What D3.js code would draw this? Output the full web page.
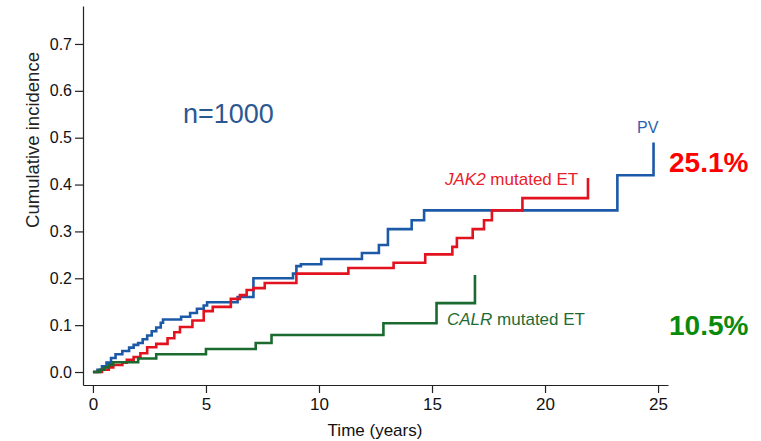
<!DOCTYPE html>
<html>
<head>
<meta charset="utf-8">
<script src="https://cdn.jsdelivr.net/npm/d3@7"></script>
<style>
  body { margin: 0; background: #fff; }
  text { font-family: "Liberation Sans", Arial, sans-serif; }
</style>
</head>
<body>
<script>
// step times (years) and cumulative incidence after each step
var pvTime = [0, 0.2, 0.4, 0.6, 0.8, 1.0, 1.3, 1.6, 1.8, 2.0, 2.2, 2.4, 2.6, 2.8, 3.0, 3.1, 3.9, 4.3, 4.6, 4.9, 5.05, 6.4, 7.1, 8.85, 9.0, 9.2, 10.1, 11.9, 12.65, 13.05, 14.1, 14.65, 23.2, 24.8, 24.8];
var pvValue = [0, 0.005, 0.012, 0.02, 0.03, 0.038, 0.045, 0.052, 0.058, 0.062, 0.07, 0.078, 0.087, 0.095, 0.105, 0.112, 0.118, 0.126, 0.135, 0.142, 0.149, 0.16, 0.2, 0.21, 0.226, 0.23, 0.241, 0.254, 0.271, 0.305, 0.324, 0.345, 0.42, 0.49, 0.49];

var jakTime = [0, 0.4, 0.7, 0.9, 1.3, 1.5, 1.8, 2.1, 2.4, 2.8, 3.3, 3.6, 3.85, 4.4, 4.9, 5.3, 6.1, 6.5, 6.8, 7.1, 7.6, 9.0, 11.3, 13.3, 14.7, 15.9, 16.1, 16.8, 17.3, 17.65, 19.0, 21.9, 21.9];
var jakValue = [0, 0.005, 0.01, 0.015, 0.02, 0.026, 0.032, 0.04, 0.053, 0.06, 0.072, 0.085, 0.096, 0.11, 0.13, 0.139, 0.156, 0.164, 0.175, 0.179, 0.19, 0.21, 0.222, 0.233, 0.251, 0.267, 0.286, 0.305, 0.324, 0.345, 0.371, 0.414, 0.414];

var calrTime = [0, 0.3, 0.5, 0.7, 0.9, 2.0, 2.8, 5.0, 7.2, 7.9, 12.85, 15.2, 16.9, 16.9];
var calrValue = [0, 0.005, 0.01, 0.015, 0.021, 0.029, 0.038, 0.049, 0.062, 0.079, 0.104, 0.147, 0.207, 0.207];

var xTicks = [0, 5, 10, 15, 20, 25];
var yTicks = [0, 0.1, 0.2, 0.3, 0.4, 0.5, 0.6, 0.7];

var series = [
  {name: "PV", time: pvTime, value: pvValue, color: "#1c5aa8"},
  {name: "JAK2", time: jakTime, value: jakValue, color: "#e3121f"},
  {name: "CALR", time: calrTime, value: calrValue, color: "#1b6a30"}
];

var width = 761, height = 441;

var svg = d3.select("body").append("svg")
    .attr("width", width)
    .attr("height", height);

var x = d3.scaleLinear().domain([-0.44, 25.44]).range([83, 668]);
var y = d3.scaleLinear().domain([-0.0277, 0.781]).range([385, 6]);

var xAxis = svg.append("g")
    .attr("transform", "translate(0,385)")
    .call(d3.axisBottom(x).tickValues(xTicks).tickSizeOuter(0).tickSizeInner(8).tickPadding(5)
      .tickFormat(d3.format("d")));
xAxis.selectAll("text").attr("font-size", 17).attr("fill", "#111")
    .style("font-family", "'Liberation Sans', Arial, sans-serif");

var yAxis = svg.append("g")
    .attr("transform", "translate(83,0)")
    .call(d3.axisLeft(y).tickValues(yTicks).tickSizeOuter(0).tickSizeInner(8).tickPadding(3)
      .tickFormat(d3.format(".1f")));
yAxis.selectAll("text").attr("font-size", 16).attr("fill", "#111")
    .style("font-family", "'Liberation Sans', Arial, sans-serif");

svg.selectAll(".domain, .tick line").attr("stroke", "#222").attr("stroke-width", 1.2);

svg.append("text")
    .attr("x", 375).attr("y", 436)
    .attr("text-anchor", "middle")
    .attr("font-size", 17).attr("fill", "#111")
    .text("Time (years)");

svg.append("text")
    .attr("transform", "translate(39,140) rotate(-90)")
    .attr("text-anchor", "middle")
    .attr("font-size", 18.5).attr("fill", "#222")
    .text("Cumulative incidence");

var line = d3.line()
    .x(function(d) { return x(d[0]); })
    .y(function(d) { return y(d[1]); })
    .curve(d3.curveStepAfter);

svg.selectAll(".curve")
    .data(series)
    .enter().append("path")
    .attr("class", "curve")
    .attr("fill", "none")
    .attr("stroke", function(d) { return d.color; })
    .attr("stroke-width", 2.6)
    .attr("d", function(d) { return line(d3.zip(d.time, d.value)); });

// annotations
svg.append("text")
    .attr("x", 637).attr("y", 133)
    .attr("font-size", 16).attr("fill", "#2a62ad")
    .text("PV");

var jak = svg.append("text")
    .attr("x", 445).attr("y", 185)
    .attr("font-size", 17).attr("fill", "#e8202a");
jak.append("tspan").attr("font-style", "italic").text("JAK2");
jak.append("tspan").text(" mutated ET");

var calr = svg.append("text")
    .attr("x", 447).attr("y", 325)
    .attr("font-size", 17).attr("fill", "#1f6b35");
calr.append("tspan").attr("font-style", "italic").text("CALR");
calr.append("tspan").text(" mutated ET");

svg.append("text")
    .attr("x", 183).attr("y", 123)
    .attr("font-size", 27).attr("fill", "#2b5891")
    .text("n=1000");

svg.append("text")
    .attr("x", 669).attr("y", 172)
    .attr("font-size", 28).attr("font-weight", "bold").attr("fill", "#ff0000")
    .text("25.1%");

svg.append("text")
    .attr("x", 669).attr("y", 335)
    .attr("font-size", 28).attr("font-weight", "bold").attr("fill", "#0a8a0a")
    .text("10.5%");
</script>
</body>
</html>
